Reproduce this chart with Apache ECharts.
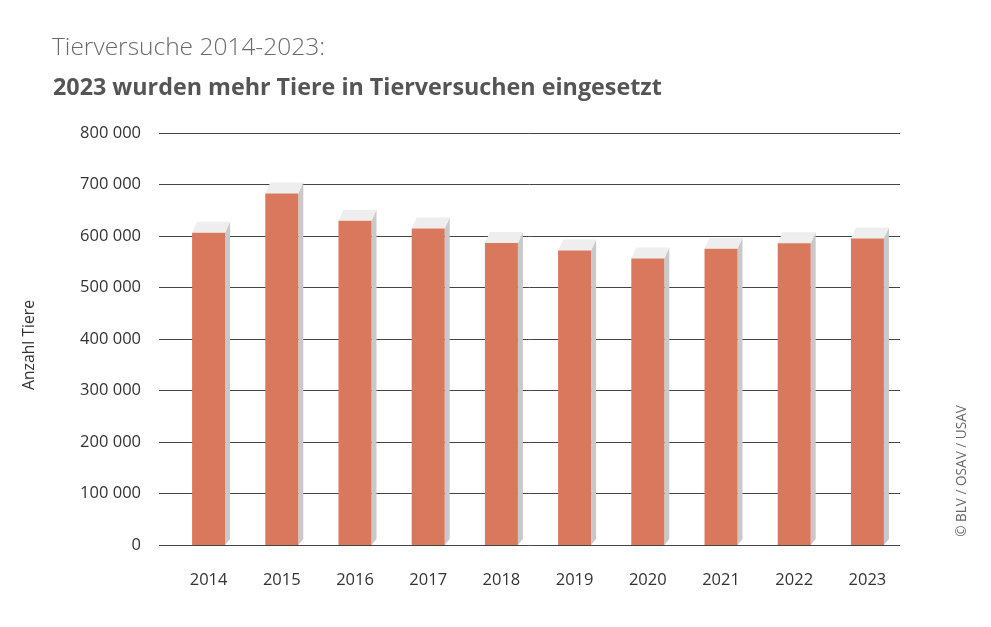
<!DOCTYPE html>
<html><head><meta charset="utf-8">
<script src="https://cdn.jsdelivr.net/npm/echarts@6/dist/echarts.min.js"></script>
<style>html,body{margin:0;padding:0;background:#fff}#c{width:991px;height:627px}</style>
</head><body><div id="c"></div>
<script>
const categories = ['2014','2015','2016','2017','2018','2019','2020','2021','2022','2023'];
const animals = [606505, 682333, 629773, 614581, 586643, 572069, 556107, 575033, 585991, 594976];
const yTicks = [0, 100000, 200000, 300000, 400000, 500000, 600000, 700000, 800000];

const FONT = '"Open Sans", "DejaVu Sans", sans-serif';
const chart = echarts.init(document.getElementById('c'));
const fmt = v => String(v).replace(/\B(?=(\d{3})+(?!\d))/g, ' ');

chart.setOption({
  animation: false,
  title: [
    {text: 'Tierversuche 2014-2023:', left: 47, top: 31,
     textStyle: {fontFamily: FONT, fontWeight: 300, fontSize: 24.5, color: '#6a6a6a'}},
    {text: '2023 wurden mehr Tiere in Tierversuchen eingesetzt', left: 48, top: 72,
     textStyle: {fontFamily: FONT, fontWeight: 'bold', fontSize: 23.3, color: '#555555'}}
  ],
  graphic: [
    {type: 'text', x: 30, y: 345, rotation: Math.PI/2, style: {text: 'Anzahl Tiere', fontFamily: FONT, fontSize: 15.7, fill: '#333', align: 'center', verticalAlign: 'middle'}},
    {type: 'text', x: 962, y: 471, rotation: Math.PI/2, style: {text: '© BLV / OSAV / USAV', fontFamily: FONT, fontSize: 13.6, fill: '#666', align: 'center', verticalAlign: 'middle'}}
  ],
  grid: [
    {left: 159, right: 91, top: 133, bottom: 82},
    {left: 172, right: 87, top: 133, bottom: 82}
  ],
  xAxis: [
    {gridIndex: 0, type: 'category', data: categories, show: false},
    {gridIndex: 1, type: 'category', data: categories,
     axisLine: {show: false}, axisTick: {show: false},
     axisLabel: {margin: 27, fontFamily: FONT, fontSize: 16.5, color: '#333'}}
  ],
  yAxis: [
    {gridIndex: 0, type: 'value', min: 0, max: 800000, interval: 100000,
     axisLine: {show: false}, axisTick: {show: false},
     splitLine: {lineStyle: {color: '#444', width: 1}},
     axisLabel: {margin: 18, fontFamily: FONT, fontSize: 16.5, color: '#333',
       formatter: v => yTicks.includes(v) ? fmt(v) : ''}},
    {gridIndex: 1, type: 'value', min: 0, max: 800000, interval: 100000, show: false}
  ],
  series: [{
    type: 'custom', xAxisIndex: 1, yAxisIndex: 1,
    data: animals.map((v, i) => [i, v]),
    renderItem: function (params, api) {
      const p = api.coord([api.value(0), api.value(1)]);
      const b = api.coord([api.value(0), 0]);
      const w = 33, dx = 5, dy = 11;
      const x0 = p[0] - w/2, x1 = p[0] + w/2;
      return {type: 'group', children: [
        {type: 'polygon', shape: {points: [[x1, p[1]], [x1+dx, p[1]-dy], [x1+dx, b[1]-6], [x1, b[1]]]}, style: {fill: '#c9c9c9'}},
        {type: 'polygon', shape: {points: [[x0, p[1]], [x0+dx, p[1]-dy], [x1+dx, p[1]-dy], [x1, p[1]]]}, style: {fill: '#eeeeee'}},
        {type: 'rect', shape: {x: x0, y: p[1], width: w, height: b[1]-p[1]}, style: {fill: '#d9785d'}}
      ]};
    }
  }]
});
</script></body></html>
